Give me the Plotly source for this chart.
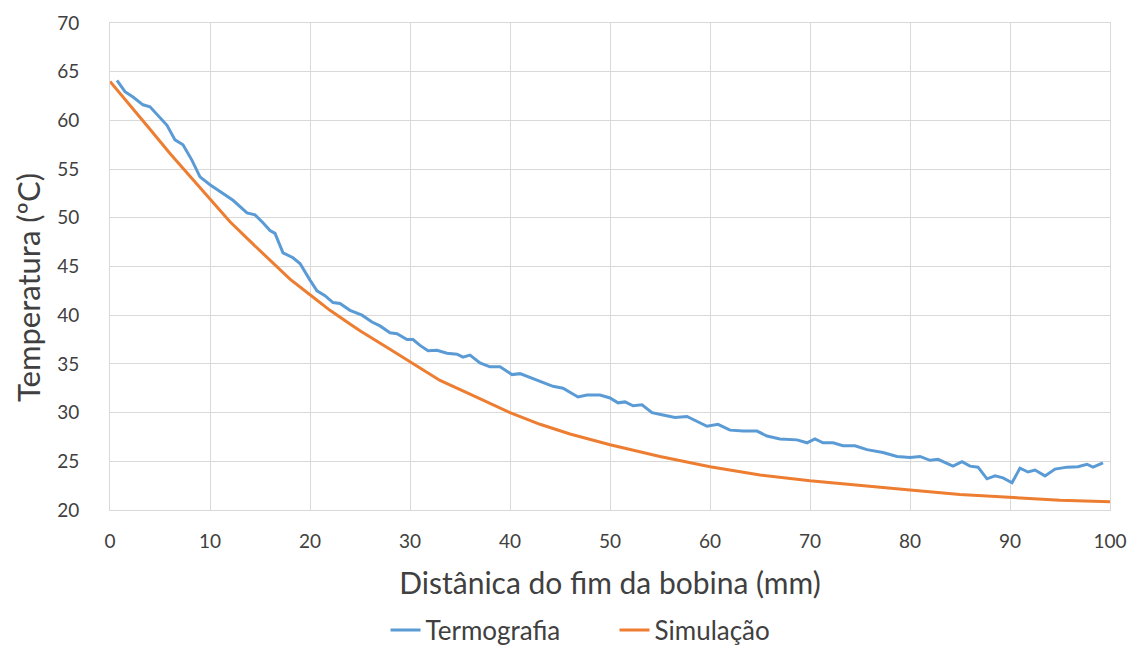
import plotly.graph_objects as go

# Termografia (measured)
termo_x = [0.7, 1.5, 2.3, 3.3, 4.0, 4.8, 5.7, 6.5, 7.3, 8.2, 9.0, 10.0, 11.3, 12.3, 13.7,
           14.5, 15.3, 16.0, 16.5, 17.3, 18.3, 19.0, 20.0, 20.7, 21.5, 22.3, 23.0, 24.0,
           25.2, 26.2, 27.0, 28.0, 28.7, 29.7, 30.3, 31.0, 31.8, 32.7, 33.7, 34.7, 35.3,
           36.0, 37.0, 38.0, 39.0, 40.2, 41.0, 42.3, 43.3, 44.3, 45.3, 46.0, 46.8, 47.7,
           49.0, 50.0, 50.8, 51.5, 52.3, 53.2, 54.2, 55.3, 56.5, 57.7, 58.5, 59.7, 60.8,
           62.0, 63.3, 64.7, 65.7, 67.0, 68.7, 69.7, 70.5, 71.3, 72.3, 73.3, 74.5, 75.7,
           77.3, 78.7, 80.0, 81.0, 82.0, 82.8, 84.3, 85.2, 86.0, 86.8, 87.7, 88.5, 89.3,
           90.2, 91.0, 91.8, 92.5, 93.5, 94.5, 95.7, 96.8, 97.7, 98.3, 99.3]
termo_y = [64.1, 62.95, 62.4, 61.6, 61.4, 60.55, 59.5, 58.0, 57.5, 55.9, 54.2, 53.4, 52.5,
           51.8, 50.5, 50.3, 49.5, 48.7, 48.4, 46.4, 45.9, 45.3, 43.6, 42.5, 42.0, 41.3,
           41.2, 40.5, 40.0, 39.3, 38.9, 38.2, 38.1, 37.5, 37.5, 36.9, 36.35, 36.4, 36.1,
           36.0, 35.7, 35.9, 35.1, 34.7, 34.7, 33.9, 34.0, 33.5, 33.1, 32.7, 32.5, 32.1,
           31.6, 31.8, 31.8, 31.5, 31.0, 31.1, 30.7, 30.8, 30.0, 29.75, 29.5, 29.6, 29.2,
           28.6, 28.8, 28.2, 28.1, 28.1, 27.6, 27.3, 27.2, 26.9, 27.3, 26.9, 26.9, 26.6,
           26.6, 26.2, 25.9, 25.5, 25.4, 25.5, 25.1, 25.2, 24.5, 24.96, 24.5, 24.4, 23.2,
           23.5, 23.3, 22.8, 24.3, 23.9, 24.1, 23.5, 24.2, 24.4, 24.45, 24.7, 24.4, 24.85]

# Simulação (model)
sim_x = [0, 2, 4, 6, 8, 10, 12, 14, 16, 18, 20, 22, 24, 25, 28, 30, 33, 36, 40, 43, 46,
         50, 55, 60, 65, 70, 75, 80, 85, 90, 95, 100]
sim_y = [64.0, 61.6, 59.1, 56.6, 54.3, 52.0, 49.6, 47.6, 45.6, 43.7, 42.1, 40.5, 39.1,
         38.4, 36.5, 35.2, 33.3, 31.9, 30.0, 28.8, 27.8, 26.7, 25.5, 24.45, 23.6, 23.0,
         22.5, 22.05, 21.6, 21.3, 21.0, 20.85]

x_ticks = list(range(0, 101, 10))
y_ticks = list(range(20, 71, 5))

FONT = "Lato, Open Sans, sans-serif"
GRID = "#d9d9d9"
TEXT = "#404040"

fig = go.Figure()
fig.add_trace(go.Scatter(x=termo_x, y=termo_y, mode="lines", name="Termografia",
                         line=dict(color="#5b9bd5", width=3)))
fig.add_trace(go.Scatter(x=sim_x, y=sim_y, mode="lines", name="Simulação",
                         line=dict(color="#ed7d31", width=3)))

fig.update_layout(
    width=1138, height=650,
    margin=dict(l=110, r=28, t=23, b=140, autoexpand=False),
    paper_bgcolor="white", plot_bgcolor="white",
    font=dict(family=FONT, color=TEXT),
    showlegend=True,
    legend=dict(orientation="h", x=0.54, xanchor="center", xref="container",
                y=1 - 630 / 650, yanchor="middle", yref="container",
                font=dict(size=26, color=TEXT), traceorder="normal", itemwidth=30,
                entrywidth=184),
    xaxis=dict(range=[0, 100], tickvals=x_ticks, showgrid=True, gridcolor=GRID,
               gridwidth=1, zeroline=False, showline=True, linecolor=GRID, mirror=True,
               ticks="", tickfont=dict(size=19, color=TEXT), automargin=False,
               ticklabelstandoff=14,
               title=dict(text="Distânica do fim da bobina (mm)",
                          font=dict(size=30, color=TEXT), standoff=22)),
    yaxis=dict(range=[20, 70], tickvals=y_ticks, showgrid=True, gridcolor=GRID,
               gridwidth=1, zeroline=False, showline=True, linecolor=GRID, mirror=True,
               ticks="", tickfont=dict(size=19, color=TEXT), automargin=False,
               ticklabelstandoff=26),
    annotations=[dict(text="Temperatura (ºC)", textangle=-90, showarrow=False,
                      xref="paper", x=0, xanchor="center", xshift=-82,
                      yref="paper", y=0.456, yanchor="middle",
                      font=dict(size=31, color=TEXT))],
)

fig.write_html("out.html")
